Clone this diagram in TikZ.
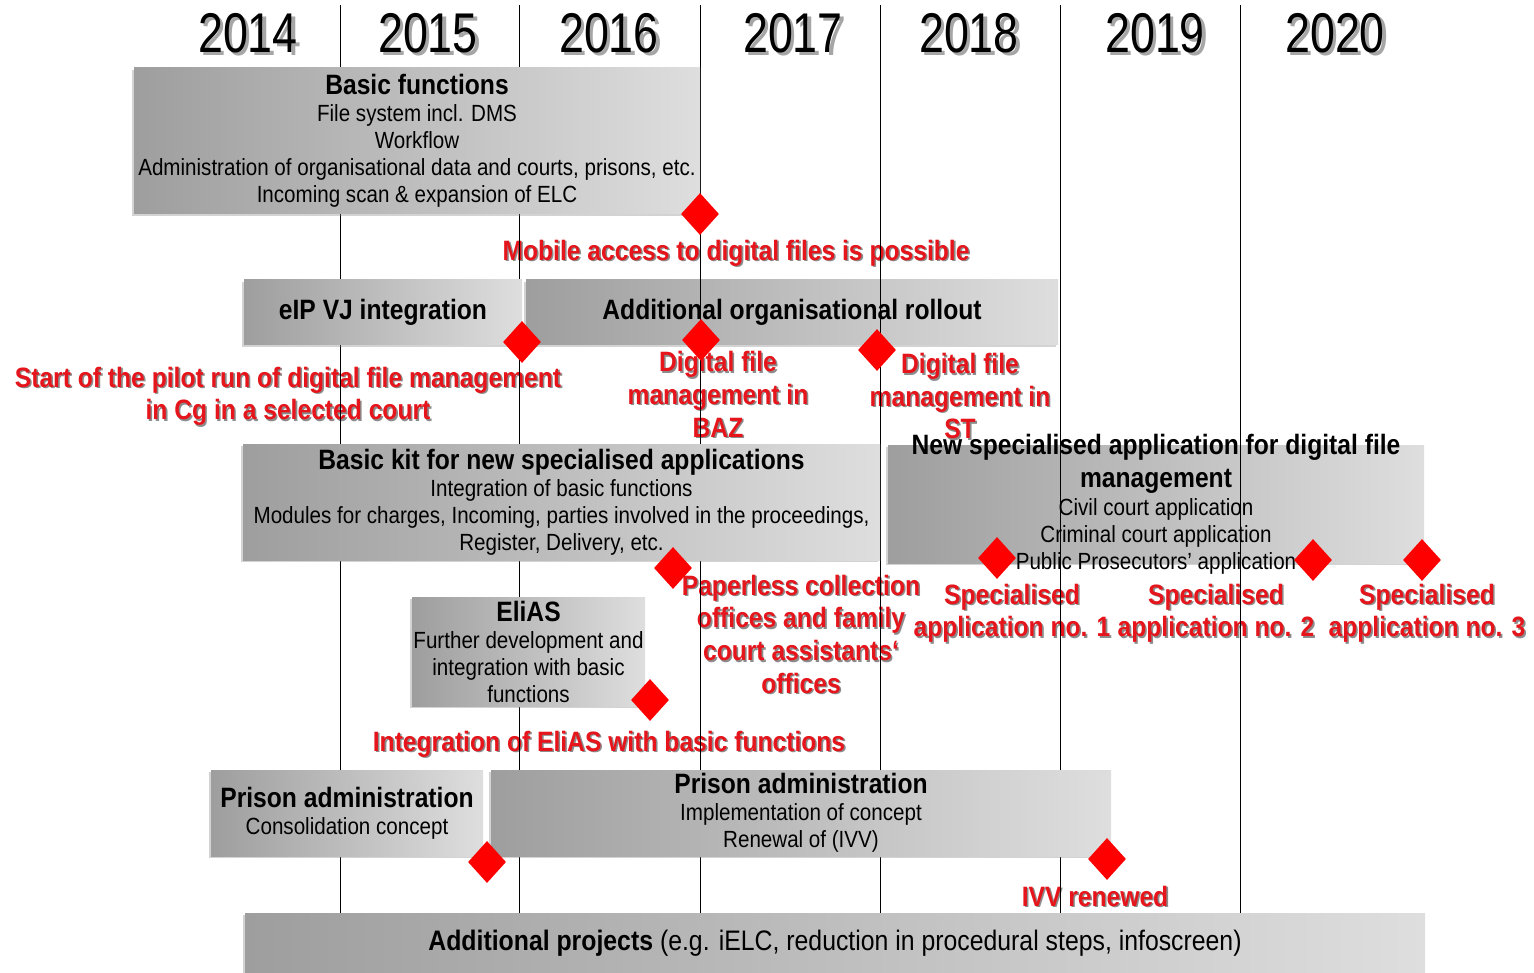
\documentclass[tikz,border=0pt]{standalone}
\usepackage{fontspec}
\setmainfont{Liberation Sans}[FakeStretch=0.88]
\newfontfamily\yearfont{Liberation Sans}[FakeStretch=0.8]
\usetikzlibrary{shapes.geometric,shadows}
\definecolor{msred}{RGB}{230,20,27}
\definecolor{boxdark}{RGB}{158,158,158}
\definecolor{boxlight}{RGB}{222,222,222}
\newcommand\shd[1]{\makebox[0pt][l]{\kern1.2pt\raisebox{-1.2pt}{\textcolor{black!45}{#1}}}#1}
\newcommand\ysh[1]{\makebox[0pt][l]{\kern2.5pt\raisebox{-2.5pt}{\textcolor{black!35}{#1}}}#1}
\newcommand\ttlf{\fontsize{21pt}{22pt}\selectfont\bfseries}
\newcommand\bodyf{\fontsize{17.55pt}{20.25pt}\selectfont\mdseries}
\tikzset{
  pbox/.style={rectangle, inner sep=0pt, left color=boxdark, right color=boxlight,
    drop shadow={shadow xshift=-1.5pt, shadow yshift=-1.5pt, opacity=0.35},
    align=center, font=\bodyf, text=black},
  redlbl/.style={inner sep=0pt, align=center, text=msred,
    font=\fontsize{21pt}{24.5pt}\selectfont\bfseries},
  yr/.style={inner sep=0pt, font=\fontsize{42pt}{42pt}\yearfont},
  ms/.style={diamond, fill=red, inner sep=0pt, minimum width=28.5pt, minimum height=31.5pt},
  yline/.style={draw=black, line width=0.75pt}
}
\begin{document}
\begin{tikzpicture}[x=0.75pt,y=-0.75pt]
\useasboundingbox (0,0) rectangle (1534,973);
% boxes under the year lines
\node[pbox, minimum width=399pt, minimum height=48.75pt, font=\ttlf] (rollout) at (792,312.5)
  {Additional organisational rollout};
\node[pbox, minimum width=402pt, minimum height=88.5pt, inner ysep=-20pt] (newapp) at (1156,504)
  {\ttlf New specialised application for digital file\\[4.5pt]\ttlf management\\[1pt]
   \bodyf Civil court application\\\bodyf Criminal court application\\\bodyf Public Prosecutors' application};
% years
\node[yr] (y14) at (248,35) {\ysh{2014}};
\node[yr] (y15) at (428,35) {\ysh{2015}};
\node[yr] (y16) at (609,35) {\ysh{2016}};
\node[yr] (y17) at (793,35) {\ysh{2017}};
\node[yr] (y18) at (969,35) {\ysh{2018}};
\node[yr] (y19) at (1155,35) {\ysh{2019}};
\node[yr] (y20) at (1335,35) {\ysh{2020}};
% red labels
\node[redlbl] (l1) at (736,254) {\shd{Mobile access to digital files is possible}};
\node[redlbl] (l2) at (288,397) {\shd{Start of the pilot run of digital file management}\\\shd{in Cg in a selected court}};
\node[redlbl] (l3) at (718,395) {\shd{Digital file}\\\shd{management in}\\\shd{BAZ}};
\node[redlbl] (l4) at (960,397) {\shd{Digital file}\\\shd{management in}\\\shd{ST}};
\node[redlbl] (l5) at (801,635) {\shd{Paperless collection}\\\shd{offices and family}\\\shd{court assistants`}\\\shd{offices}};
\node[redlbl] (l6) at (1012,614) {\shd{Specialised}\\\shd{application no. 1}};
\node[redlbl] (l7) at (1216,614) {\shd{Specialised}\\\shd{application no. 2}};
\node[redlbl] (l8) at (1427,614) {\shd{Specialised}\\\shd{application no. 3}};
\node[redlbl] (l9) at (609,745) {\shd{Integration of EliAS with basic functions}};
\node[redlbl] (l10) at (1095,897) {\shd{IVV renewed}};
% year separator lines
\foreach \x/\n in {340/a,519/b,700/c,880/d,1060/e,1240/f}{
  \coordinate (t\n) at (\x,5);
  \coordinate (b\n) at (\x,973);
  \draw[yline] (t\n) -- (b\n);
}
% boxes over the year lines
\node[pbox, minimum width=424.5pt, minimum height=109.5pt] (basic) at (417,141)
  {\ttlf Basic functions\\\bodyf File system incl. DMS\\Workflow\\
   Administration of organisational data and courts, prisons, etc.\\Incoming scan \& expansion of ELC};
\node[pbox, minimum width=208.5pt, minimum height=48.75pt, font=\ttlf] (eip) at (383,312.5)
  {eIP VJ integration};
\node[pbox, minimum width=477.75pt, minimum height=87pt] (kit) at (561.5,502)
  {\ttlf Basic kit for new specialised applications\\
   \bodyf Integration of basic functions\\Modules for charges, Incoming, parties involved in the proceedings,\\
   Register, Delivery, etc.};
\node[pbox, minimum width=174.75pt, minimum height=81.75pt] (elias) at (528.5,651.5)
  {\ttlf EliAS\\\bodyf Further development and\\integration with basic\\functions};
\node[pbox, minimum width=204pt, minimum height=64.5pt] (prison1) at (347,813)
  {\ttlf Prison administration\\\bodyf Consolidation concept};
\node[pbox, minimum width=465pt, minimum height=64.5pt] (prison2) at (801,813)
  {\ttlf Prison administration\\\bodyf Implementation of concept\\Renewal of (IVV)};
\node[pbox, minimum width=885pt, minimum height=45pt, font=\fontsize{21.15pt}{22pt}\selectfont] (addproj) at (835,943)
  {\textbf{Additional projects} (e.g. iELC, reduction in procedural steps, infoscreen)};
% milestones
\node[ms] (m1) at (700,214) {};
\node[ms] (m2) at (522,342) {};
\node[ms] (m3) at (701,340) {};
\node[ms] (m4) at (877,350) {};
\node[ms] (m5) at (673,568) {};
\node[ms] (m6) at (650,700) {};
\node[ms] (m7) at (997,558) {};
\node[ms] (m8) at (1313,560) {};
\node[ms] (m9) at (1422,560) {};
\node[ms] (m10) at (487,862) {};
\node[ms] (m11) at (1107,859) {};
\end{tikzpicture}
\end{document}
